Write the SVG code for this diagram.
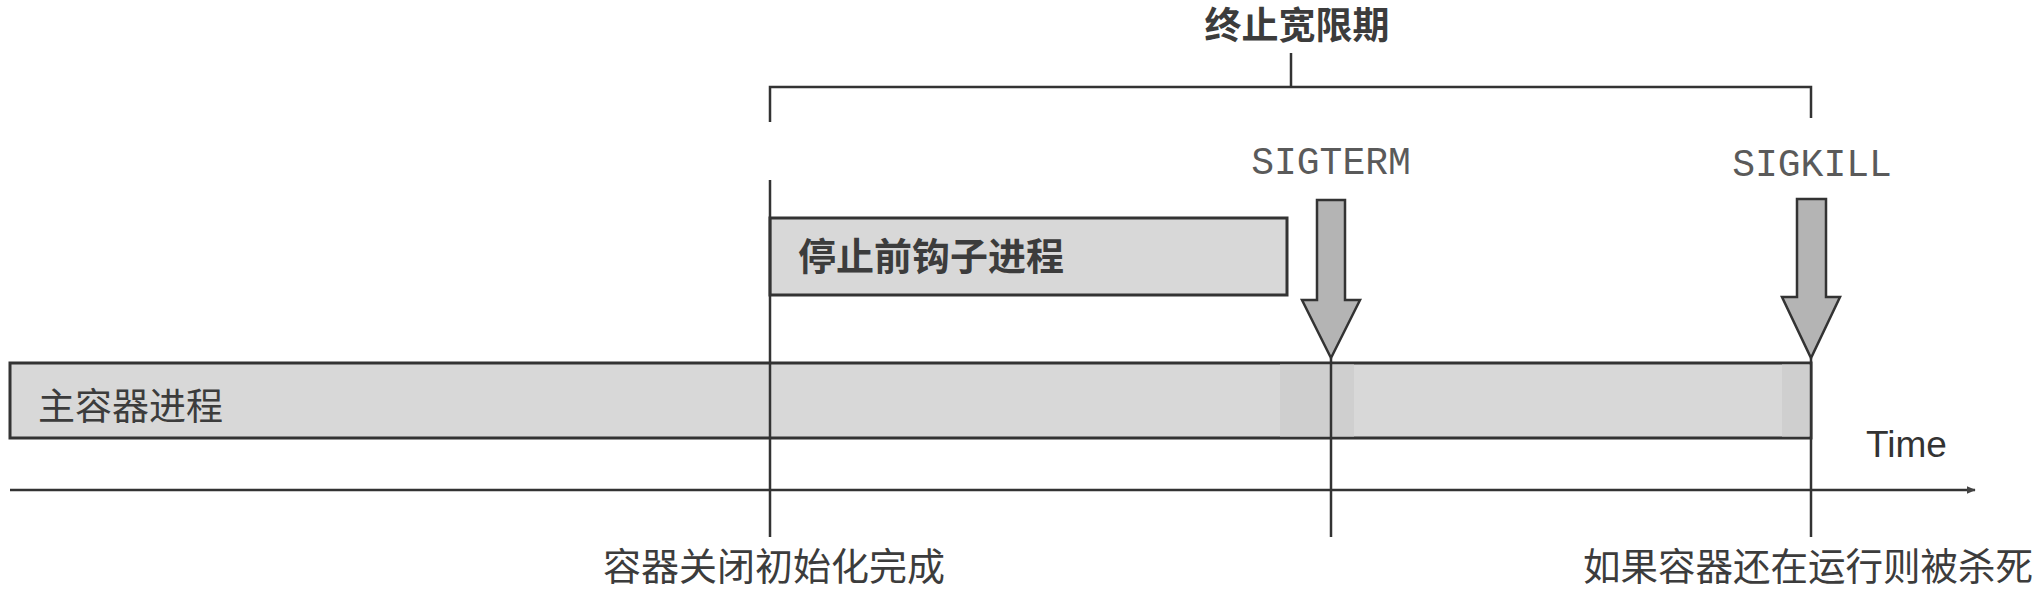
<svg xmlns="http://www.w3.org/2000/svg" width="2036" height="592" viewBox="0 0 2036 592">
<style>
.cjk{font-family:"Noto Sans CJK SC","Noto Sans",sans-serif;fill:#3c3c3c;}
.b{font-weight:bold;}
.mono{font-family:"Liberation Mono","DejaVu Sans Mono",monospace;fill:#5a5a5a;font-size:38px;}
.sans{font-family:"Liberation Sans",Arial,sans-serif;fill:#333;}
.ln{stroke:#333;stroke-width:2.5;fill:none;}
.box{fill:#d8d8d8;stroke:#333;stroke-width:3;}
.arr{fill:#b4b4b4;stroke:#333;stroke-width:2.5;stroke-linejoin:miter;}
</style>
<defs>
<marker id="ah" viewBox="0 0 12 10" refX="11" refY="5" markerWidth="9" markerHeight="7.5" markerUnits="userSpaceOnUse" orient="auto">
<path d="M0,0 L12,5 L0,10 Z" fill="#444"/>
</marker>
</defs>
<rect width="2036" height="592" fill="#fff"/>

<g id="main-process">
<rect class="box" x="10" y="363" width="1801" height="75"/>
<rect x="1280" y="364.5" width="74" height="72" fill="#cfcfcf"/>
<rect x="1782" y="364.5" width="28" height="72" fill="#cfcfcf"/>
<text class="cjk" x="38" y="420" font-size="37">主容器进程</text>
</g>

<g id="prestop-hook">
<rect class="box" x="770" y="218" width="517" height="77"/>
<text class="cjk b" x="798" y="270" font-size="38">停止前钩子进程</text>
</g>

<g id="grace-period">
<text class="cjk b" x="1297" y="39" font-size="37" text-anchor="middle">终止宽限期</text>
</g>

<g id="sigterm">
<text class="mono" x="1331" y="174" text-anchor="middle">SIGTERM</text>
<path class="arr" d="M1317,200 H1345 V300 H1360 L1331,358 L1302,300 H1317 Z"/>
</g>

<g id="sigkill">
<text class="mono" x="1812" y="176" text-anchor="middle">SIGKILL</text>
<path class="arr" d="M1797,199 H1826 V297 H1840 L1811,358 L1782,297 H1797 Z"/>
</g>

<g id="time-label">
<text class="sans" x="1866" y="457" font-size="37">Time</text>
</g>

<g id="label-shutdown-init">
<text class="cjk" x="774" y="580" font-size="38" text-anchor="middle">容器关闭初始化完成</text>
</g>

<g id="label-killed">
<text class="cjk" x="1808" y="580" font-size="37.5" text-anchor="middle">如果容器还在运行则被杀死</text>
</g>

<g id="connectors">
<path class="ln" d="M770,122 V87 H1811 V118"/>
<line class="ln" x1="1291" y1="53" x2="1291" y2="87"/>
<line class="ln" x1="770" y1="180" x2="770" y2="537"/>
<line class="ln" x1="1331" y1="358" x2="1331" y2="537"/>
<line class="ln" x1="1811" y1="358" x2="1811" y2="537"/>
<line class="ln" x1="10" y1="490" x2="1975" y2="490" marker-end="url(#ah)"/>
</g>
</svg>
